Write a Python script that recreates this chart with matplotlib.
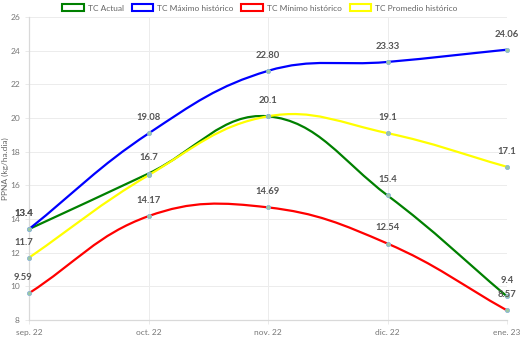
import matplotlib
matplotlib.use("Agg")
import matplotlib.pyplot as plt
from matplotlib.path import Path
from matplotlib.patches import PathPatch, Patch
import numpy as np

categories = ["sep. 22", "oct. 22", "nov. 22", "dic. 22", "ene. 23"]
actual = [13.4, 16.7, 20.1, 15.4, 9.4]
maximo = [13.4, 19.08, 22.80, 23.33, 24.06]
minimo = [9.59, 14.17, 14.69, 12.54, 8.57]
promedio = [11.7, 16.6, 20.1, 19.1, 17.1]

actual_labels = ["13.4", "16.7", "20.1", "15.4", "9.4"]
maximo_labels = ["13.4", "19.08", "22.80", "23.33", "24.06"]
minimo_labels = ["9.59", "14.17", "14.69", "12.54", "8.57"]
promedio_labels = ["11.7", None, None, "19.1", "17.1"]

series = [
    ("TC Actual", actual, actual_labels, "#008000"),
    ("TC Máximo histórico", maximo, maximo_labels, "#0000ff"),
    ("TC Mínimo histórico", minimo, minimo_labels, "#ff0000"),
    ("TC Promedio histórico", promedio, promedio_labels, "#ffff00"),
]

plt.rcParams['font.family'] = ['Lato', 'DejaVu Sans']

fig = plt.figure(figsize=(5.2, 3.38), dpi=100)
ax = fig.add_axes([29/520, 1-320/338, (507-29)/520, (320-17)/338])
ax.set_xlim(0, len(categories)-1)
ax.set_ylim(8, 26)
ax.set_yticks(np.arange(8, 27, 2))
ax.set_xticks(range(len(categories)))
ax.set_xticklabels(categories)
ax.tick_params(axis='both', labelsize=6, colors='#777777', length=3, width=0.6)
ax.tick_params(axis='both', color='#e6e6e6')
ax.grid(True, color='#ececec', linewidth=0.7)
ax.set_axisbelow(True)
for s in ['top', 'right']:
    ax.spines[s].set_visible(False)
for s in ['left', 'bottom']:
    ax.spines[s].set_color('#d9d9d9')
    ax.spines[s].set_linewidth(0.9)
ax.set_ylabel("PPNA (kg/ha.dia)", fontsize=6, color='#666666', labelpad=1)

tension = 0.4
to_disp = ax.transData
to_data = ax.transData.inverted()

def spline_path(xs, ys):
    P = to_disp.transform(np.column_stack([xs, ys]))
    n = len(P)
    cp_prev = np.zeros_like(P)
    cp_next = np.zeros_like(P)
    for i in range(n):
        cur = P[i]
        prev = P[i-1] if i > 0 else cur
        nxt = P[i+1] if i < n-1 else cur
        d01 = np.hypot(*(cur-prev))
        d12 = np.hypot(*(nxt-cur))
        tot = d01 + d12
        s01 = d01/tot if tot else 0
        s12 = d12/tot if tot else 0
        cp_prev[i] = cur - tension*s01*(nxt-prev)
        cp_next[i] = cur + tension*s12*(nxt-prev)
    verts = [P[0]]
    codes = [Path.MOVETO]
    for i in range(n-1):
        verts += [cp_next[i], cp_prev[i+1], P[i+1]]
        codes += [Path.CURVE4]*3
    verts = to_data.transform(np.array(verts))
    return Path(verts, codes)

xs = np.arange(len(categories))
handles = []
for name, vals, labels, col in series:
    path = spline_path(xs, vals)
    ax.add_patch(PathPatch(path, facecolor='none', edgecolor=col, linewidth=1.6,
                           clip_on=False, zorder=3))
    ax.scatter(xs, vals, s=9, color='#9cc8a0', edgecolors='#8ab4d8',
               linewidths=0.6, zorder=4, clip_on=False)
    for x, v, lab in zip(xs, vals, labels):
        if lab is None:
            continue
        dx = -4 if x == 0 else 0
        ax.annotate(lab, (x, v), xytext=(dx, 8), textcoords='offset points',
                    ha='center', va='bottom', fontsize=6.8, fontweight='bold',
                    color='#555555', zorder=5, annotation_clip=False)
    handles.append(Patch(facecolor='white', edgecolor=col, linewidth=1.5, label=name))

fig.legend(handles=handles, loc='center', bbox_to_anchor=(0.5, 1-8/338), ncol=4,
           frameon=False, fontsize=6, handlelength=2.6, handleheight=0.8,
           columnspacing=0.9, handletextpad=0.5, labelcolor='#666666')

fig.savefig("out.png", dpi=100)
